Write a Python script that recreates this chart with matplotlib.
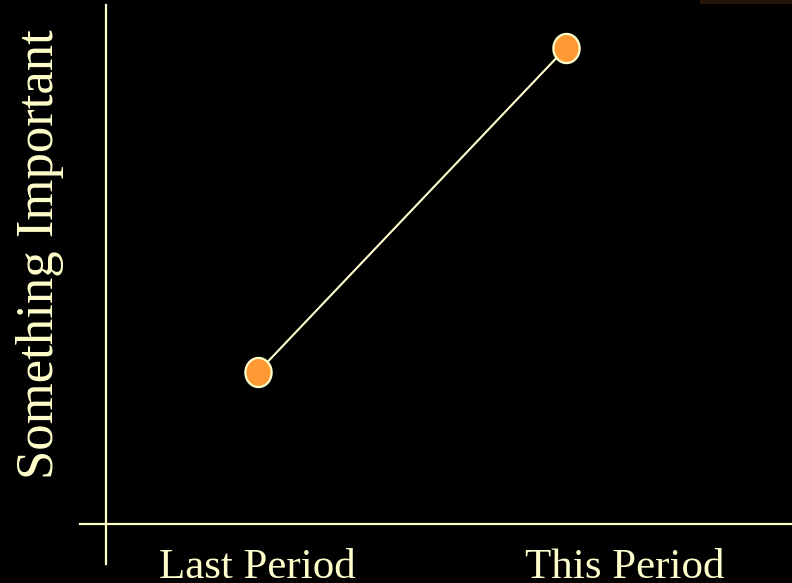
import matplotlib.pyplot as plt
import numpy as np
from matplotlib.path import Path
from matplotlib.patches import Rectangle

# two periods compared on a bare cross-axis
periods = ["Last Period", "This Period"]
values = [3.2, 10.0]
y_title = "Something Important"

cream = "#FFFFCC"
orange = "#FF9933"

plt.rcParams["font.family"] = ["Liberation Serif", "DejaVu Serif"]

fig = plt.figure(figsize=(7.92, 5.83), dpi=100, facecolor="black")
ax = fig.add_axes([80 / 792, 19 / 583, 712 / 792, 559 / 583], facecolor="black")

# slightly tall oval marker
t = np.linspace(0, 2 * np.pi, 60)
oval = Path(np.column_stack([0.9 * np.cos(t), np.sin(t)]), closed=True)

x = np.arange(len(periods))
ax.plot(x, values, color=cream, lw=1.5, zorder=2)
ax.plot(x, values, ls="none", marker=oval, ms=21, mfc=orange, mec=cream,
        mew=1.6, zorder=3)

ax.set_xlim(-0.578, 1.734)
ax.set_ylim(-0.829, 10.90)

for side in ("top", "right"):
    ax.spines[side].set_visible(False)
ax.spines["left"].set_position(("data", -0.4935))
ax.spines["bottom"].set_position(("data", 0))
for side in ("left", "bottom"):
    ax.spines[side].set_color(cream)
    ax.spines[side].set_linewidth(1.6)
ax.set_xticks([])
ax.set_yticks([])

label_px = [257, 625]
for px, name in zip(label_px, periods):
    fig.text(px / 792, 5 / 583, name, color=cream, fontsize=31,
             ha="center", va="baseline")

fig.text(40 / 792, 1 - 254 / 583, y_title, color=cream, fontsize=38,
         rotation=90, ha="center", va="center")

# faint brown strip along the top-right edge
fig.patches.append(Rectangle((700 / 792, 1 - 4 / 583), 92 / 792, 4 / 583,
                             transform=fig.transFigure, color="#24160a",
                             lw=0))

fig.savefig("out.png", dpi=100, facecolor="black")
